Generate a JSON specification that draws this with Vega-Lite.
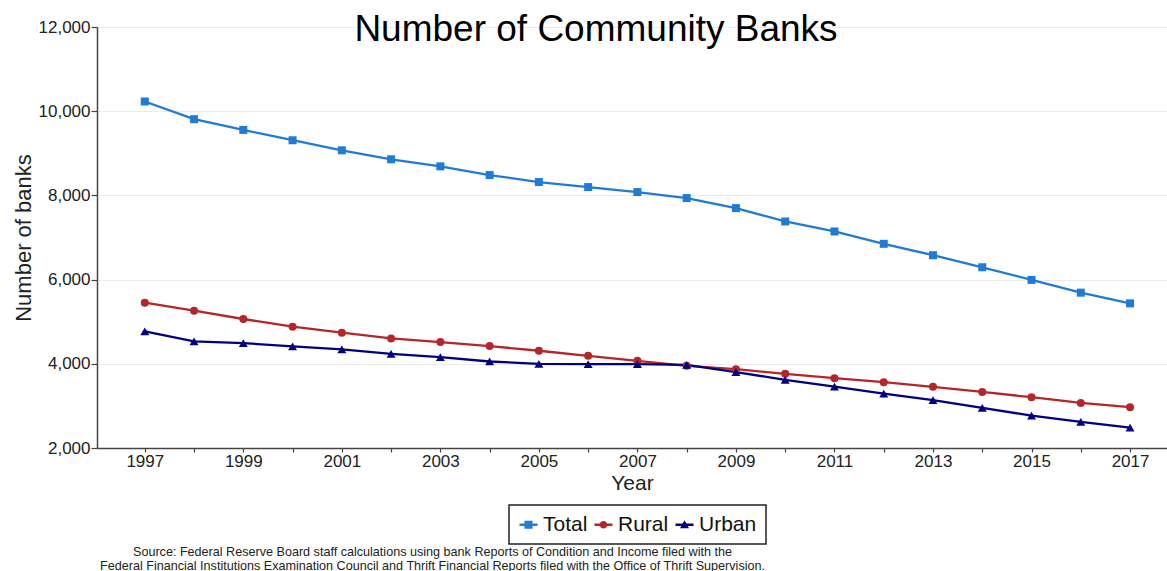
{
  "$schema": "https://vega.github.io/schema/vega-lite/v6.json",
  "width": 1070,
  "height": 421,
  "autosize": {"type": "none"},
  "padding": {"left": 97, "top": 27, "right": 0, "bottom": 123},
  "background": "white",
  "config": {
    "font": "Liberation Sans",
    "view": {"stroke": null},
    "axis": {
      "labelFont": "Liberation Sans",
      "titleFont": "Liberation Sans",
      "labelColor": "#222222",
      "titleColor": "#222222",
      "domainColor": "#444444",
      "tickColor": "#444444",
      "domainWidth": 1.5,
      "tickWidth": 1.2,
      "gridColor": "#ebebeb",
      "gridWidth": 1.2,
      "titleFontWeight": "normal"
    },
    "legend": {"strokeWidth": 1.5}
  },
  "title": {
    "text": "Number of Community Banks",
    "font": "Liberation Sans",
    "fontSize": 37,
    "fontWeight": "normal",
    "color": "#000000",
    "frame": "group",
    "anchor": "middle",
    "offset": 0,
    "baseline": "alphabetic",
    "dx": -36,
    "dy": 60
  },
  "data": {
    "values": [
      {"year": 1997, "series": "Total", "value": 10231},
      {"year": 1998, "series": "Total", "value": 9810},
      {"year": 1999, "series": "Total", "value": 9555},
      {"year": 2000, "series": "Total", "value": 9310},
      {"year": 2001, "series": "Total", "value": 9071},
      {"year": 2002, "series": "Total", "value": 8857},
      {"year": 2003, "series": "Total", "value": 8690},
      {"year": 2004, "series": "Total", "value": 8483},
      {"year": 2005, "series": "Total", "value": 8317},
      {"year": 2006, "series": "Total", "value": 8198},
      {"year": 2007, "series": "Total", "value": 8079},
      {"year": 2008, "series": "Total", "value": 7936},
      {"year": 2009, "series": "Total", "value": 7698},
      {"year": 2010, "series": "Total", "value": 7381},
      {"year": 2011, "series": "Total", "value": 7143},
      {"year": 2012, "series": "Total", "value": 6850},
      {"year": 2013, "series": "Total", "value": 6579},
      {"year": 2014, "series": "Total", "value": 6293},
      {"year": 2015, "series": "Total", "value": 5993},
      {"year": 2016, "series": "Total", "value": 5690},
      {"year": 2017, "series": "Total", "value": 5436},
      {"year": 1997, "series": "Rural", "value": 5452},
      {"year": 1998, "series": "Rural", "value": 5262},
      {"year": 1999, "series": "Rural", "value": 5064},
      {"year": 2000, "series": "Rural", "value": 4881},
      {"year": 2001, "series": "Rural", "value": 4738},
      {"year": 2002, "series": "Rural", "value": 4603},
      {"year": 2003, "series": "Rural", "value": 4516},
      {"year": 2004, "series": "Rural", "value": 4421},
      {"year": 2005, "series": "Rural", "value": 4310},
      {"year": 2006, "series": "Rural", "value": 4190},
      {"year": 2007, "series": "Rural", "value": 4071},
      {"year": 2008, "series": "Rural", "value": 3952},
      {"year": 2009, "series": "Rural", "value": 3873},
      {"year": 2010, "series": "Rural", "value": 3762},
      {"year": 2011, "series": "Rural", "value": 3659},
      {"year": 2012, "series": "Rural", "value": 3564},
      {"year": 2013, "series": "Rural", "value": 3452},
      {"year": 2014, "series": "Rural", "value": 3333},
      {"year": 2015, "series": "Rural", "value": 3206},
      {"year": 2016, "series": "Rural", "value": 3071},
      {"year": 2017, "series": "Rural", "value": 2969},
      {"year": 1997, "series": "Urban", "value": 4769},
      {"year": 1998, "series": "Urban", "value": 4531},
      {"year": 1999, "series": "Urban", "value": 4493},
      {"year": 2000, "series": "Urban", "value": 4412},
      {"year": 2001, "series": "Urban", "value": 4341},
      {"year": 2002, "series": "Urban", "value": 4238},
      {"year": 2003, "series": "Urban", "value": 4159},
      {"year": 2004, "series": "Urban", "value": 4055},
      {"year": 2005, "series": "Urban", "value": 4000},
      {"year": 2006, "series": "Urban", "value": 3993},
      {"year": 2007, "series": "Urban", "value": 3993},
      {"year": 2008, "series": "Urban", "value": 3976},
      {"year": 2009, "series": "Urban", "value": 3802},
      {"year": 2010, "series": "Urban", "value": 3619},
      {"year": 2011, "series": "Urban", "value": 3460},
      {"year": 2012, "series": "Urban", "value": 3293},
      {"year": 2013, "series": "Urban", "value": 3136},
      {"year": 2014, "series": "Urban", "value": 2952},
      {"year": 2015, "series": "Urban", "value": 2769},
      {"year": 2016, "series": "Urban", "value": 2619},
      {"year": 2017, "series": "Urban", "value": 2483}
    ]
  },
  "resolve": {"axis": {"x": "independent"}},
  "layer": [
    {
      "transform": [{"filter": "datum.series == 'Total'"}],
      "mark": {"type": "line", "strokeWidth": 2.3, "color": "#1f7bd6"},
      "encoding": {
        "x": {
          "field": "year",
          "type": "quantitative",
          "scale": {"domain": [1996.03, 2017.75], "nice": false, "zero": false},
          "axis": {
            "values": [1997, 1998, 1999, 2000, 2001, 2002, 2003, 2004, 2005, 2006, 2007, 2008, 2009, 2010, 2011, 2012, 2013, 2014, 2015, 2016, 2017],
            "format": "d",
            "labelExpr": "datum.value % 2 == 1 ? datum.label : ''",
            "title": "Year",
            "grid": false,
            "tickSize": 4,
            "labelFontSize": 17,
            "titleFontSize": 21,
            "labelPadding": 1,
            "titlePadding": 3,
            "labelFlush": false,
            "labelOverlap": false
          }
        },
        "y": {
          "field": "value",
          "type": "quantitative",
          "scale": {"domain": [2000, 12000], "nice": false, "zero": false},
          "axis": {
            "values": [2000, 4000, 6000, 8000, 10000, 12000],
            "format": ",d",
            "title": "Number of banks",
            "tickSize": 6,
            "labelFontSize": 17,
            "titleFontSize": 22,
            "grid": true,
            "labelPadding": 1,
            "titlePadding": 3
          }
        }
      }
    },
    {
      "transform": [{"filter": "datum.series == 'Rural'"}],
      "mark": {"type": "line", "strokeWidth": 2.3, "color": "#b5262a"},
      "encoding": {
        "x": {"field": "year", "type": "quantitative", "axis": null},
        "y": {"field": "value", "type": "quantitative"}
      }
    },
    {
      "transform": [{"filter": "datum.series == 'Urban'"}],
      "mark": {"type": "line", "strokeWidth": 2.3, "color": "#000080"},
      "encoding": {
        "x": {"field": "year", "type": "quantitative", "axis": null},
        "y": {"field": "value", "type": "quantitative"}
      }
    },
    {
      "transform": [{"filter": "datum.series == 'Total'"}],
      "mark": {"type": "point", "shape": "square", "filled": true, "size": 64, "color": "#1f7bd6", "opacity": 1},
      "encoding": {
        "x": {"field": "year", "type": "quantitative", "axis": null},
        "y": {"field": "value", "type": "quantitative"}
      }
    },
    {
      "transform": [{"filter": "datum.series == 'Rural'"}],
      "mark": {"type": "point", "shape": "circle", "filled": true, "size": 64, "color": "#b5262a", "opacity": 1},
      "encoding": {
        "x": {"field": "year", "type": "quantitative", "axis": null},
        "y": {"field": "value", "type": "quantitative"}
      }
    },
    {
      "transform": [{"filter": "datum.series == 'Urban'"}],
      "mark": {"type": "point", "shape": "triangle-up", "filled": true, "size": 80, "color": "#000080", "opacity": 1},
      "encoding": {
        "x": {"field": "year", "type": "quantitative", "axis": null},
        "y": {"field": "value", "type": "quantitative"}
      }
    },
    {
      "transform": [{"filter": "datum.series == 'none'"}],
      "mark": {"type": "point", "filled": true, "opacity": 1},
      "encoding": {
        "x": {
          "field": "year",
          "type": "quantitative",
          "axis": {
            "orient": "bottom",
            "title": ["Source: Federal Reserve Board staff calculations using bank Reports of Condition and Income filed with the", "Federal Financial Institutions Examination Council and Thrift Financial Reports filed with the Office of Thrift Supervision."],
            "labels": false,
            "ticks": false,
            "domain": false,
            "grid": false,
            "titleFontSize": 12.6,
            "titleX": 335,
            "titleY": 107,
            "titleAlign": "center",
            "titleBaseline": "alphabetic",
            "titleLineHeight": 14,
            "titleColor": "#222222"
          }
        },
        "y": {"field": "value", "type": "quantitative"},
        "color": {
          "field": "series",
          "type": "nominal",
          "scale": {"domain": ["Total", "Rural", "Urban"], "range": ["#1f7bd6", "#b5262a", "#000080"]},
          "legend": {
            "orient": "none",
            "legendX": 412,
            "legendY": 478,
            "direction": "horizontal",
            "title": null,
            "labelFontSize": 21,
            "labelFont": "Liberation Sans",
            "labelColor": "#111111",
            "symbolSize": 324,
            "symbolStrokeWidth": 0,
            "symbolOpacity": 1,
            "strokeColor": "#222222",
            "padding": 9,
            "columnPadding": 5,
            "labelOffset": 4
          }
        },
        "shape": {
          "field": "series",
          "type": "nominal",
          "scale": {
            "domain": ["Total", "Rural", "Urban"],
            "range": [
              "M-1,-0.14H1V0.14H-1Z M-0.45,-0.45H0.45V0.45H-0.45Z",
              "M-1,-0.14H1V0.14H-1Z M-0.42,0A0.42,0.42 0 1,1 0.42,0A0.42,0.42 0 1,1 -0.42,0Z",
              "M-1,-0.14H1V0.14H-1Z M0,-0.5L0.5,0.38H-0.5Z"
            ]
          },
          "legend": {
            "orient": "none",
            "legendX": 412,
            "legendY": 478,
            "direction": "horizontal",
            "title": null,
            "labelFontSize": 21,
            "labelFont": "Liberation Sans",
            "labelColor": "#111111",
            "symbolSize": 324,
            "symbolStrokeWidth": 0,
            "symbolOpacity": 1,
            "strokeColor": "#222222",
            "padding": 9,
            "columnPadding": 5,
            "labelOffset": 4
          }
        }
      }
    }
  ]
}
